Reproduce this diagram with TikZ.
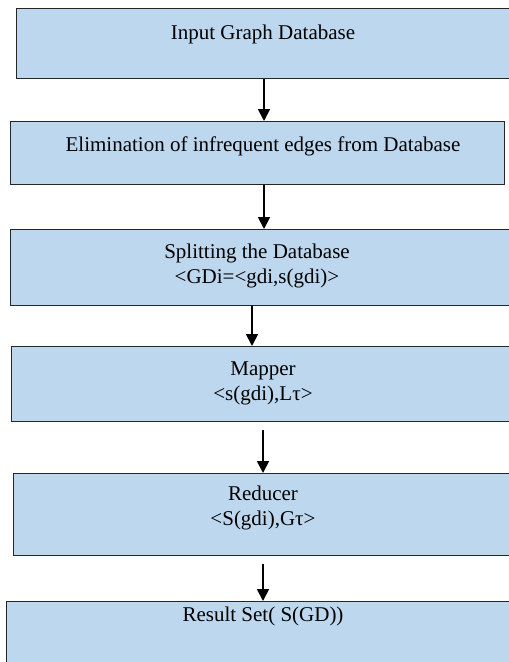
\documentclass[tikz,border=0pt]{standalone}
\usepackage{fontspec}
\setmainfont{Liberation Serif}
\usepackage{tikz}
\usetikzlibrary{arrows.meta,positioning,calc}
\definecolor{boxblue}{RGB}{189,215,238}
\tikzset{
  box/.style  ={draw=black!85,fill=boxblue,line width=1pt,rectangle,anchor=north west,inner sep=0pt},
  lbl/.style  ={font=\fontsize{21}{25}\selectfont,align=center,inner sep=0pt},
  flow/.style ={-{Triangle[width=12pt,length=12pt]},line width=1.8pt,black},
}

\begin{document}
\begin{tikzpicture}[x=1pt,y=-1pt]
  \useasboundingbox (0,0) rectangle (509,662);
  % boxes (right edges run past the page)
  \node[box,minimum width=500pt,minimum height=70pt] (inp) at (16,8) {};
  \node[box,minimum width=494pt,minimum height=63pt] (elim) at (10,121) {};
  \node[box,minimum width=506pt,minimum height=76pt] (split) at (10,229) {};
  \node[box,minimum width=505pt,minimum height=75pt] (map) at (11,346) {};
  \node[box,minimum width=503pt,minimum height=82pt] (red) at (13,473) {};
  \node[box,minimum width=510pt,minimum height=80pt] (res) at (6,601) {};
  % texts
  \node[lbl] (tinp) at (263,34) {Input Graph Database};
  \node[lbl] (telim) at (263,146) {Elimination of infrequent edges from Database};
  \node[lbl] (tsplit) at (257,266) {Splitting the Database\\<GDi=<gdi,s(gdi)>};
  \node[lbl] (tmap) at (263,383) {Mapper\\<s(gdi),L\char"03C4>};
  \node[lbl] (tred) at (263,508) {Reducer\\<S(gdi),G\char"03C4>};
  \node[lbl] (tres) at (263,616) {Result Set( S(GD))};
  % arrows
  \draw[flow] (inp.south -| 264,0) -- (elim.north -| 264,0);
  \draw[flow] (elim.south -| 264,0) -- (split.north -| 264,0);
  \draw[flow] (split.south -| 252,0) -- (map.north -| 252,0);
  \draw[flow] ([yshift=-8pt]map.south -| 263,0) -- (red.north -| 263,0);
  \draw[flow] ([yshift=-8pt]red.south -| 263,0) -- (res.north -| 263,0);
\end{tikzpicture}
\end{document}
